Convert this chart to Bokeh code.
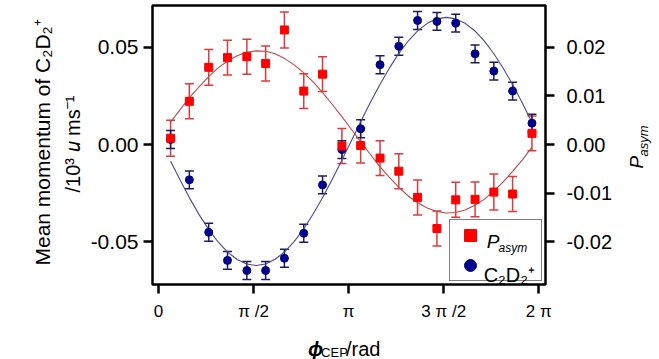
import math
from bokeh.plotting import figure
from bokeh.models import (ColumnDataSource, Range1d, LinearAxis, FixedTicker,
                          NumeralTickFormatter, Whisker, TeeHead, Legend,
                          LegendItem, Label)
from bokeh.embed import file_html
from bokeh.resources import INLINE

# ---------------- data ----------------
phase_rad = [0.20, 0.51, 0.83, 1.14, 1.46, 1.77, 2.08, 2.40, 2.71, 3.03,
             3.34, 3.66, 3.97, 4.28, 4.60, 4.91, 5.23, 5.54, 5.85, 6.17]

p_asym = [0.0013, 0.0089, 0.0159, 0.0179, 0.0181, 0.0167, 0.0236, 0.0110,
          0.0145, -0.0003, -0.0002, -0.0028, -0.0055, -0.0109, -0.0173,
          -0.0114, -0.0113, -0.0098, -0.0102, 0.0023]
p_asym_err = [0.0037, 0.0036, 0.0037, 0.0036, 0.0036, 0.0036, 0.0037, 0.0036,
              0.0036, 0.0036, 0.0036, 0.0036, 0.0036, 0.0036, 0.0036, 0.0036,
              0.0036, 0.0037, 0.0036, 0.0036]

c2d2_mom = [0.0026, -0.0182, -0.0452, -0.0597, -0.0649, -0.0649, -0.0586,
            -0.0457, -0.0208, -0.0026, 0.0081, 0.0411, 0.0506, 0.0639, 0.0634,
            0.0625, 0.0467, 0.0378, 0.0275, 0.0110]
c2d2_err = [0.0046, 0.0046, 0.0046, 0.0046, 0.0046, 0.0046, 0.0046, 0.0046,
            0.0046, 0.0046, 0.0046, 0.0046, 0.0046, 0.0046, 0.0046, 0.0046,
            0.0046, 0.0046, 0.0046, 0.0046]

fit_phase = [0.200, 0.357, 0.514, 0.671, 0.828, 0.985, 1.142, 1.299, 1.456,
             1.613, 1.770, 1.927, 2.084, 2.241, 2.398, 2.555, 2.712, 2.869,
             3.026, 3.183, 3.340, 3.497, 3.654, 3.811, 3.968, 4.125, 4.282,
             4.439, 4.596, 4.753, 4.910, 5.067, 5.224, 5.381, 5.538, 5.695,
             5.852, 6.009, 6.166]
fit_c2d2 = [-0.0086, -0.0183, -0.0276, -0.0361, -0.0437, -0.0502, -0.0554,
            -0.0592, -0.0615, -0.0623, -0.0615, -0.0591, -0.0553, -0.0500,
            -0.0435, -0.0358, -0.0273, -0.0180, -0.0083, 0.0017, 0.0117,
            0.0215, 0.0307, 0.0392, 0.0468, 0.0533, 0.0585, 0.0624, 0.0647,
            0.0655, 0.0647, 0.0624, 0.0586, 0.0534, 0.0469, 0.0393, 0.0308,
            0.0215, 0.0116]
fit_p_asym = [0.0046, 0.0072, 0.0097, 0.0119, 0.0140, 0.0158, 0.0172, 0.0183,
              0.0190, 0.0193, 0.0192, 0.0187, 0.0177, 0.0164, 0.0148, 0.0129,
              0.0107, 0.0083, 0.0058, 0.0032, 0.0006, -0.0020, -0.0045,
              -0.0067, -0.0088, -0.0106, -0.0120, -0.0131, -0.0138, -0.0141,
              -0.0140, -0.0135, -0.0125, -0.0113, -0.0096, -0.0077, -0.0055,
              -0.0032, -0.0006]

x_tick_values = [0.0, math.pi / 2, math.pi, 3 * math.pi / 2, 2 * math.pi]
x_tick_labels = ["0", "π /2", "π", "3 π /2", "2 π"]
left_ticks = [-0.05, 0.0, 0.05]
right_ticks = [-0.02, -0.01, 0.0, 0.01, 0.02]

# ---------------- layout ----------------
X0, X1 = -0.0989, 6.3935
Y0, Y1 = -0.0721, 0.0716
R0, R1 = Y0 * 0.4, Y1 * 0.4
FL, FR, FT, FB = 151, 545, 5, 284
W, H = 659, 359

RED = "#ff0000"
RED_ERR = "#d83c3c"
RED_LINE = "#bc4a4a"
BLUE = "#00008b"
BLUE_ERR = "#1c1c5c"
BLUE_LINE = "#4a4a8c"
FONT = "Liberation Sans"

p = figure(width=W, height=H, x_range=Range1d(X0, X1), y_range=Range1d(Y0, Y1),
           output_backend="svg", toolbar_location=None,
           min_border_left=FL, min_border_right=W - FR,
           min_border_top=FT, min_border_bottom=H - FB)
p.extra_y_ranges = {"pasym": Range1d(R0, R1)}
p.background_fill_color = "white"
p.border_fill_color = "white"
p.outline_line_color = "black"
p.outline_line_width = 2.5
p.xgrid.visible = False
p.ygrid.visible = False


def style_axis(ax, size, standoff):
    ax.axis_line_color = None
    ax.major_tick_out = 9
    ax.major_tick_in = 0
    ax.major_tick_line_width = 2.5
    ax.major_tick_line_color = "black"
    ax.minor_tick_line_color = None
    ax.major_label_text_font = FONT
    ax.major_label_text_font_size = f"{size}px"
    ax.major_label_text_color = "black"
    ax.major_label_standoff = standoff


xa = p.xaxis[0]
xa.ticker = FixedTicker(ticks=x_tick_values)
xa.major_label_overrides = dict(zip(x_tick_values, x_tick_labels))
style_axis(xa, 17, 8)

ya = p.yaxis[0]
ya.ticker = FixedTicker(ticks=left_ticks)
ya.formatter = NumeralTickFormatter(format="0.00")
style_axis(ya, 21, 5)

ra = LinearAxis(y_range_name="pasym", ticker=FixedTicker(ticks=right_ticks),
                formatter=NumeralTickFormatter(format="0.00"))
style_axis(ra, 20, 12)
p.add_layout(ra, "right")

# ---------------- fits ----------------
p.line(fit_phase, fit_c2d2, line_color=BLUE_LINE, line_width=1.1)
p.line(fit_phase, fit_p_asym, line_color=RED_LINE, line_width=1.1,
       y_range_name="pasym")

# ---------------- error bars ----------------
red_src = ColumnDataSource(dict(
    x=phase_rad, y=p_asym,
    upper=[v + e for v, e in zip(p_asym, p_asym_err)],
    lower=[v - e for v, e in zip(p_asym, p_asym_err)]))
blue_src = ColumnDataSource(dict(
    x=phase_rad, y=c2d2_mom,
    upper=[v + e for v, e in zip(c2d2_mom, c2d2_err)],
    lower=[v - e for v, e in zip(c2d2_mom, c2d2_err)]))

wr = Whisker(source=red_src, base="x", upper="upper", lower="lower",
             dimension="height", line_color=RED_ERR, line_width=1.5,
             upper_head=TeeHead(size=9, line_color=RED_ERR, line_width=1.5),
             lower_head=TeeHead(size=9, line_color=RED_ERR, line_width=1.5),
             y_range_name="pasym", level="underlay")
wb = Whisker(source=blue_src, base="x", upper="upper", lower="lower",
             dimension="height", line_color=BLUE_ERR, line_width=1.5,
             upper_head=TeeHead(size=9, line_color=BLUE_ERR, line_width=1.5),
             lower_head=TeeHead(size=9, line_color=BLUE_ERR, line_width=1.5),
             level="underlay")
p.add_layout(wr)
p.add_layout(wb)

# ---------------- markers ----------------
blue_r = p.scatter("x", "y", source=blue_src, marker="circle", size=8,
                   fill_color=BLUE, line_color=BLUE)
red_r = p.scatter("x", "y", source=red_src, marker="square", size=8,
                  fill_color=RED, line_color=RED, y_range_name="pasym")

# ---------------- legend ----------------
legend = Legend(items=[LegendItem(label=" ", renderers=[red_r]),
                       LegendItem(label=" ", renderers=[blue_r])],
                location=(297, 3), glyph_width=40, glyph_height=30,
                padding=0, spacing=0, margin=0, label_width=51,
                label_standoff=0, label_text_font_size="6px",
                label_text_alpha=0.0,
                border_line_color="black", border_line_width=1,
                background_fill_alpha=0.0)
p.add_layout(legend)


def lab(text, px, py, size, angle=0.0, style="normal", place="center"):
    x = X0 + (px - FL) / (FR - FL) * (X1 - X0)
    y = Y0 + (FB - py) / (FB - FT) * (Y1 - Y0)
    lbl = Label(x=x, y=y, text=text, angle=angle, text_align="left",
                text_baseline="alphabetic", text_font=FONT,
                text_font_size=f"{size}px", text_font_style=style,
                text_color="black")
    if place == "center":
        p.add_layout(lbl)
    else:
        p.add_layout(lbl, place)


# legend texts (inside the frame)
lab("P", 486, 241, 19, style="italic")
lab("asym", 498, 247, 12, style="italic")
lab("C₂D₂⁺", 483, 274, 20)

# left axis title (drawn from side panels, positioned in data units)
lab("Mean momentum of C₂D₂⁺", 41, 265, 21, angle=math.pi / 2, place="left")
lab("/10³ 𝑢 ms⁻¹", 71, 192, 20, angle=math.pi / 2, place="left")

# bottom axis title
lab("ϕ", 307, 348, 20, style="bold italic", place="left")
lab("CEP", 320, 352, 13, place="left")
lab("/rad", 345, 348, 20, place="below")

# right axis title
lab("P", 636, 168, 19, angle=math.pi / 2, style="italic", place="right")
lab("asym", 643, 156, 13, angle=math.pi / 2, style="italic", place="right")

open("out.html", "w").write(file_html(p, INLINE))
